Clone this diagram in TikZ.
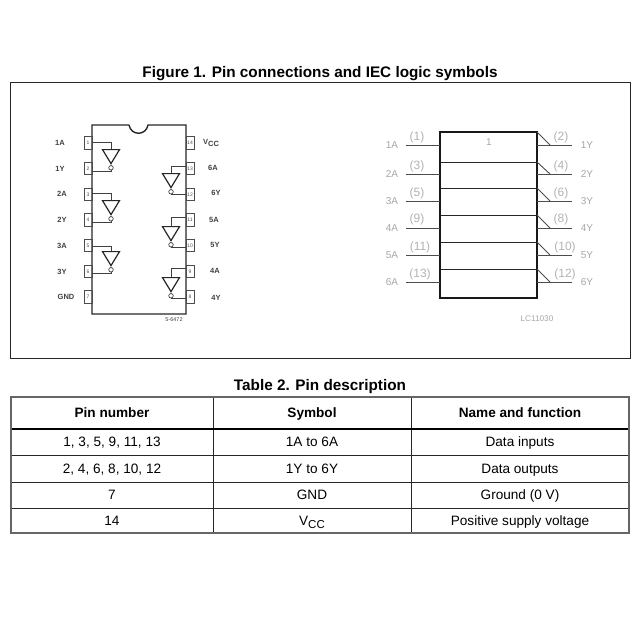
\documentclass[tikz,border=0pt]{standalone}
\usepackage{fontspec}
\setmainfont{Liberation Sans}
\usetikzlibrary{shapes.geometric,positioning}

\newcommand{\fsize}[1]{\fontsize{#1}{#1}\selectfont}

\begin{document}
\begin{tikzpicture}[x=1pt, y=-1pt, node distance=25.67pt,
    titletext/.style={font=\fsize{15.3}\bfseries},
    pinbox/.style={draw, rectangle, line width=0.9pt, black!70, text=black!70, minimum width=8pt, minimum height=12.5pt, inner sep=0pt, font=\fsize{5}},
    pintext/.style={text=black!75, font=\fsize{7.5}\bfseries, inner sep=0pt},
    inv/.style={draw, isosceles triangle, isosceles triangle stretches, shape border rotate=-90, anchor=lower side, minimum width=17pt, minimum height=14pt, inner sep=0pt, line width=1.2pt, black!85},
    bubble/.style={draw, circle, minimum size=4.5pt, inner sep=0pt, line width=0.7pt, black!75},
    wire/.style={line width=0.7pt, black!75},
    pinline/.style={line width=0.9pt, black!70},
    symbox/.style={draw, rectangle, line width=0.9pt, black!85, minimum width=97pt, outer sep=0pt},
    graytext/.style={text=black!35, font=\fsize{10}, inner sep=0pt},
    pintitle/.style={graytext, text=black!30, font=\fsize{12}},
    cell/.style={draw=black!85, rectangle, line width=0.7pt, outer sep=0pt, inner sep=0pt, text height=10pt, text depth=1pt, font=\fsize{13.6}},
    headcell/.style={cell, minimum height=32pt, font=\fsize{13.6}\bfseries},
]
    \useasboundingbox (0,0) rectangle (640,640);

    % figure part
    \node (figtitle) [titletext] at (320,74) {Figure 1. Pin connections and IEC logic symbols};
    \node (figframe) [draw, rectangle, line width=0.8pt, black!85, minimum width=620pt, minimum height=276pt] at (320,220) {};

    % package outline with notch
    \coordinate (notchL) at (129,125);
    \coordinate (notchR) at (148,125);
    \draw[line width=1.4pt, black!85] (notchL) -- (92,125) -- (92,314) -- (186,314) -- (186,125) -- (notchR)
        .. controls (146,136) and (131,136) .. (notchL);

    % pins, left side
    \node (p1) [pinbox] at (88,143) {1};
    \node (p2) [pinbox, below of=p1] {2};
    \node (p3) [pinbox, below of=p2] {3};
    \node (p4) [pinbox, below of=p3] {4};
    \node (p5) [pinbox, below of=p4] {5};
    \node (p6) [pinbox, below of=p5] {6};
    \node (p7) [pinbox, below of=p6] {7};

    % pins, right side
    \node (p14) [pinbox] at (190,143) {14};
    \node (p13) [pinbox, below of=p14] {13};
    \node (p12) [pinbox, below of=p13] {12};
    \node (p11) [pinbox, below of=p12] {11};
    \node (p10) [pinbox, below of=p11] {10};
    \node (p9) [pinbox, below of=p10] {9};
    \node (p8) [pinbox, below of=p9] {8};

    % pin names
    \node (n1) [pintext] at (60,143) {1A};
    \node (n2) [pintext] at (60,169) {1Y};
    \node (n3) [pintext] at (62,194) {2A};
    \node (n4) [pintext] at (62,220) {2Y};
    \node (n5) [pintext] at (62,246) {3A};
    \node (n6) [pintext] at (62,272) {3Y};
    \node (n7) [pintext] at (66,297) {GND};
    \node (n14) [pintext] at (211,143) {V\raisebox{-2pt}{CC}};
    \node (n13) [pintext] at (213,168) {6A};
    \node (n12) [pintext] at (216,193) {6Y};
    \node (n11) [pintext] at (214,220) {5A};
    \node (n10) [pintext] at (215,245) {5Y};
    \node (n9) [pintext] at (215,271) {4A};
    \node (n8) [pintext] at (216,298) {4Y};
    \node (code) [pintext, font=\fsize{5.5}] at (174,320) {5-6472};

    % inverters
    \node (invA) [inv] at (111,149) {};
    \node (invB) [inv] at (111,200) {};
    \node (invC) [inv] at (111,251) {};
    \node (invD) [inv] at (171,173) {};
    \node (invE) [inv] at (171,226) {};
    \node (invF) [inv] at (171,277) {};
    \node (bubA) [bubble, below=0pt of invA.apex] {};
    \node (bubB) [bubble, below=0pt of invB.apex] {};
    \node (bubC) [bubble, below=0pt of invC.apex] {};
    \node (bubD) [bubble, below=0pt of invD.apex] {};
    \node (bubE) [bubble, below=0pt of invE.apex] {};
    \node (bubF) [bubble, below=0pt of invF.apex] {};

    \draw[wire] ([yshift=1pt]p1.east) -| (invA.lower side);
    \draw[wire] (bubA.south) |- ([yshift=-2.5pt]p2.east);
    \draw[wire] ([yshift=0.5pt]p3.east) -| (invB.lower side);
    \draw[wire] (bubB.south) |- ([yshift=-2.5pt]p4.east);
    \draw[wire] ([yshift=-1pt]p5.east) -| (invC.lower side);
    \draw[wire] (bubC.south) |- ([yshift=-2pt]p6.east);
    \draw[wire] ([yshift=2pt]p13.west) -| (invD.lower side);
    \draw[wire] (bubD.south) |- ([yshift=-0.5pt]p12.west);
    \draw[wire] ([yshift=2.5pt]p11.west) -| (invE.lower side);
    \draw[wire] (bubE.south) |- ([yshift=-2pt]p10.west);
    \draw[wire] ([yshift=3pt]p9.west) -| (invF.lower side);
    \draw[wire] (bubF.south) |- ([yshift=-1pt]p8.west);

    % logic symbol
    \node (symA) [symbox, minimum height=30pt] at (488.5,147) {};
    \node (symB) [symbox, minimum height=26pt, below=0pt of symA] {};
    \node (symC) [symbox, minimum height=27pt, below=0pt of symB] {};
    \node (symD) [symbox, minimum height=27pt, below=0pt of symC] {};
    \node (symE) [symbox, minimum height=27pt, below=0pt of symD] {};
    \node (symF) [symbox, minimum height=29pt, below=0pt of symE] {};
    \draw[line width=1.3pt, black!90] (symA.north west) rectangle (symF.south east);
    \node (symone) [graytext] at (489,142) {1};
    \node (symcode) [graytext, font=\fsize{8.2}] at (537,318.5) {LC11030};

    \coordinate (inA) at (406,145);
    \coordinate (inB) at (406,174);
    \coordinate (inC) at (406,201);
    \coordinate (inD) at (406,228);
    \coordinate (inE) at (406,255);
    \coordinate (inF) at (406,282);
    \coordinate (outA) at (572,145);
    \coordinate (outB) at (572,174);
    \coordinate (outC) at (572,201);
    \coordinate (outD) at (572,228);
    \coordinate (outE) at (572,255);
    \coordinate (outF) at (572,282);

    \draw[pinline] (inA) -- (inA -| symA.west);
    \draw[pinline] (inB) -- (inB -| symB.west);
    \draw[pinline] (inC) -- (inC -| symC.west);
    \draw[pinline] (inD) -- (inD -| symD.west);
    \draw[pinline] (inE) -- (inE -| symE.west);
    \draw[pinline] (inF) -- (inF -| symF.west);
    \draw[pinline] (outA) -- (outA -| symA.east);
    \draw[pinline] (outB) -- (outB -| symB.east);
    \draw[pinline] (outC) -- (outC -| symC.east);
    \draw[pinline] (outD) -- (outD -| symD.east);
    \draw[pinline] (outE) -- (outE -| symE.east);
    \draw[pinline] (outF) -- (outF -| symF.east);

    % output marks
    \draw[pinline] (symA.north east) -- (550,145);
    \draw[pinline] (symB.north east) -- (550,174);
    \draw[pinline] (symC.north east) -- (550,201);
    \draw[pinline] (symD.north east) -- (550,228);
    \draw[pinline] (symE.north east) -- (550,255);
    \draw[pinline] (symF.north east) -- (550,282);

    \node (lA) [graytext] at (392,145) {1A};
    \node (lB) [graytext] at (392,174) {2A};
    \node (lC) [graytext] at (392,201) {3A};
    \node (lD) [graytext] at (392,228) {4A};
    \node (lE) [graytext] at (392,255) {5A};
    \node (lF) [graytext] at (392,282) {6A};
    \node (rA) [graytext] at (587,145) {1Y};
    \node (rB) [graytext] at (587,174) {2Y};
    \node (rC) [graytext] at (587,201) {3Y};
    \node (rD) [graytext] at (587,228) {4Y};
    \node (rE) [graytext] at (587,255) {5Y};
    \node (rF) [graytext] at (587,282) {6Y};
    \node (tA) [pintitle] at (417,137) {(1)};
    \node (tB) [pintitle] at (417,166) {(3)};
    \node (tC) [pintitle] at (417,193) {(5)};
    \node (tD) [pintitle] at (417,219) {(9)};
    \node (tE) [pintitle] at (420,247) {(11)};
    \node (tF) [pintitle] at (420,274) {(13)};
    \node (uA) [pintitle] at (561,137) {(2)};
    \node (uB) [pintitle] at (561,166) {(4)};
    \node (uC) [pintitle] at (561,193) {(6)};
    \node (uD) [pintitle] at (561,219) {(8)};
    \node (uE) [pintitle] at (565,247) {(10)};
    \node (uF) [pintitle] at (565,274) {(12)};

    % table part
    \node (tabtitle) [titletext] at (320,387) {Table 2. Pin description};
    \node (headA) [headcell, minimum width=202pt] at (112,413) {Pin number};
    \node (headB) [headcell, minimum width=198pt, right=0pt of headA] {Symbol};
    \node (headC) [headcell, minimum width=218pt, right=0pt of headB] {Name and function};
    \node (oneA) [cell, minimum width=202pt, minimum height=26pt, below=0pt of headA] {1, 3, 5, 9, 11, 13};
    \node (oneB) [cell, minimum width=198pt, minimum height=26pt, below=0pt of headB] {1A to 6A};
    \node (oneC) [cell, minimum width=218pt, minimum height=26pt, below=0pt of headC] {Data inputs};
    \node (twoA) [cell, minimum width=202pt, minimum height=27pt, below=0pt of oneA] {2, 4, 6, 8, 10, 12};
    \node (twoB) [cell, minimum width=198pt, minimum height=27pt, below=0pt of oneB] {1Y to 6Y};
    \node (twoC) [cell, minimum width=218pt, minimum height=27pt, below=0pt of oneC] {Data outputs};
    \node (thrA) [cell, minimum width=202pt, minimum height=26pt, below=0pt of twoA] {7};
    \node (thrB) [cell, minimum width=198pt, minimum height=26pt, below=0pt of twoB] {GND};
    \node (thrC) [cell, minimum width=218pt, minimum height=26pt, below=0pt of twoC] {Ground (0 V)};
    \node (fouA) [cell, minimum width=202pt, minimum height=25pt, below=0pt of thrA] {14};
    \node (fouB) [cell, minimum width=198pt, minimum height=25pt, below=0pt of thrB] {V\raisebox{-3pt}{\fsize{11.5}CC}};
    \node (fouC) [cell, minimum width=218pt, minimum height=25pt, below=0pt of thrC] {Positive supply voltage};

    \draw[line width=2.2pt] (headA.south west) -- (headC.south east);
    \draw[line width=1.1pt, black!60] (headA.north west) rectangle (fouC.south east);
\end{tikzpicture}
\end{document}
